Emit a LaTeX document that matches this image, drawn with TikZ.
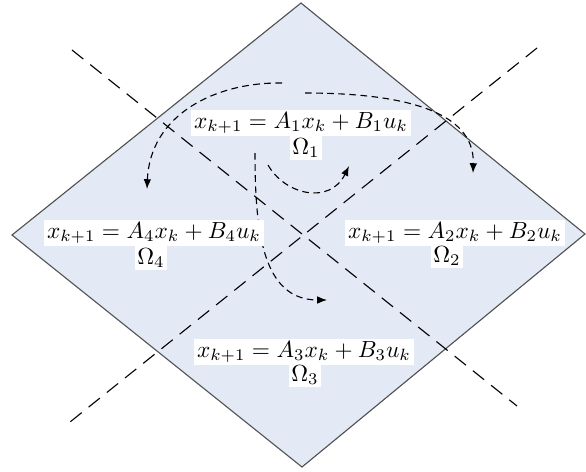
\documentclass[tikz,border=0pt]{standalone}
\usepackage{graphicx}
\usetikzlibrary{arrows.meta}
\definecolor{regionfill}{RGB}{227,234,246}
\definecolor{edgegray}{RGB}{80,80,80}
\newcommand{\lawtext}[1]{\scalebox{1.05}{#1}}
\tikzset{
  region/.style={fill=regionfill, draw=edgegray, line width=0.5pt, line join=miter},
  divider/.style={draw=black, line width=0.5pt, dash pattern=on 6.5pt off 4pt},
  flow/.style={draw=black, line width=0.5pt, dash pattern=on 3pt off 2pt, -{Latex[length=4.4pt,width=3.4pt]}},
  law/.style={fill=white, inner sep=1.2pt},
}
\begin{document}
\begin{tikzpicture}[x=0.45pt,y=-0.45pt]
\useasboundingbox (0,0) rectangle (586,471);
% diamond corners
\coordinate (T) at (301,3);
\coordinate (R) at (585,234);
\coordinate (B) at (302,467);
\coordinate (L) at (12,235);
\draw[region] (T) -- (R) -- (B) -- (L) -- cycle;
% dividing lines
\coordinate (a1) at (72,50);
\coordinate (a2) at (517,406);
\coordinate (b1) at (537,48);
\coordinate (b2) at (70,422);
\draw[divider] (a1) -- (a2);
\draw[divider] (b1) -- (b2);
% transition arrows
\coordinate (c1s) at (282,83);
\coordinate (c1e) at (147,189);
\coordinate (c2s) at (305,93);
\coordinate (c2e) at (473,173);
\coordinate (c3s) at (268,165);
\coordinate (c3e) at (349,166);
\coordinate (c4s) at (255,153);
\coordinate (c4e) at (327,300);
\draw[flow] (c1s) .. controls (215,82) and (150,115) .. (c1e);
\draw[flow] (c2s) .. controls (400,93) and (475,110) .. (c2e);
\draw[flow] (c3s) .. controls (285,195) and (330,205) .. (c3e);
\draw[flow] (c4s) .. controls (255,230) and (262,300) .. (c4e);
% labels
\node[law] (e1) at (301,123) {\lawtext{$x_{k+1} = A_1x_k + B_1u_k$}};
\node[law] (o1) at (306,148) {\lawtext{$\Omega_1$}};
\node[law] (e4) at (154,233) {\lawtext{$x_{k+1} = A_4x_k + B_4u_k$}};
\node[law] (o4) at (151,258) {\lawtext{$\Omega_4$}};
\node[law] (e2) at (455,233) {\lawtext{$x_{k+1} = A_2x_k + B_2u_k$}};
\node[law] (o2) at (447,256) {\lawtext{$\Omega_2$}};
\node[law] (e3) at (304,352) {\lawtext{$x_{k+1} = A_3x_k + B_3u_k$}};
\node[law] (o3) at (305,375) {\lawtext{$\Omega_3$}};
\end{tikzpicture}
\end{document}
